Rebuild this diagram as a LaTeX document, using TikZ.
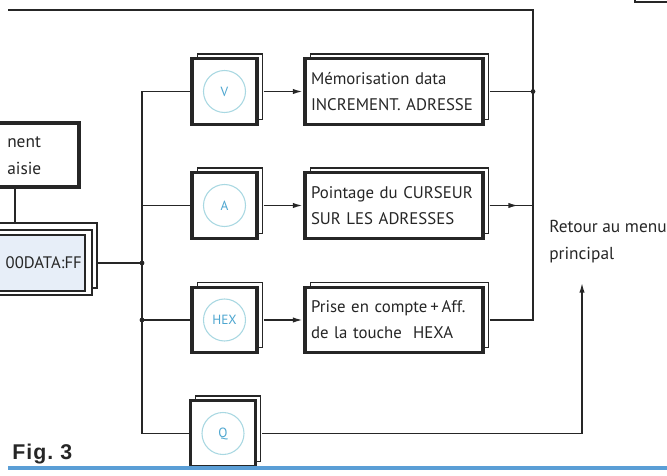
\documentclass[tikz,border=0pt]{standalone}
\usepackage{fontspec}
\setmainfont{PT Sans}
\newfontfamily\figfont[LetterSpace=5]{Liberation Sans}
\usetikzlibrary{arrows.meta,calc,shadows}
\definecolor{ink}{HTML}{262626}
\definecolor{cyanc}{HTML}{A9D8E2}
\definecolor{cyant}{HTML}{4DA6D0}
\definecolor{datab}{HTML}{E7EEF8}
\definecolor{figblue}{HTML}{5A9ED6}
\tikzset{
  front/.style={draw=ink, line width=2.3pt, fill=white, inner sep=0pt,
    copy shadow={shadow xshift=3.9pt, shadow yshift=3.75pt, draw=ink, fill=white, line width=1pt}},
  keybox/.style={front, minimum width=48.75pt, minimum height=49pt},
  textbox/.style={front, minimum width=133.5pt, minimum height=49pt, inner xsep=4.5pt,
    text width=124.5pt, align=left, text=ink, font=\fontsize{12.6}{19.5}\selectfont},
  keyc/.style={circle, draw=cyanc, line width=0.8pt, minimum size=31.5pt, inner sep=0pt,
    text=cyant, font=\fontsize{10}{11}\selectfont},
  wire/.style={draw=ink, line width=1.4pt},
  arr/.style={wire, -{Latex[length=8pt,width=4pt]}},
  jdot/.style={circle, fill=ink, inner sep=0pt, minimum size=3.6pt},
  lbl/.style={text=ink, align=left, inner sep=0pt, font=\fontsize{13}{20}\selectfont}
}
\begin{document}
\begin{tikzpicture}[x=0.75pt,y=-0.75pt]
\useasboundingbox (0,0) rectangle (667,475);

% cut-off box at the top right
\draw[ink, line width=1.8pt] (635,-20) rectangle (690,2);

% upper-left box (cut off)
\node[draw=ink, line width=2.3pt, fill=white, minimum width=66.75pt, minimum height=48pt, inner sep=0pt] (saisie) at (34.5,155) {};
\node[lbl, anchor=west, text width=60pt] (saisietxt) at (7,156) {nent\\aisie};

% DATA box (cut off), stacked frames
\draw[ink, line width=1pt, fill=white] (-10,223) rectangle (97,288);
\draw[ink, line width=2.2pt, fill=white] (-10,230) rectangle (92,295);
\node[draw=ink, line width=1pt, fill=datab, minimum width=71.25pt, minimum height=42pt, inner sep=0pt] (data) at (37.5,263) {};
\node[lbl, anchor=east, font=\fontsize{12.5}{14}\selectfont] (datatxt) at (82,263) {00DATA:FF};
\draw[wire] (saisie.south -| 15,0) -- (15,223);

% key boxes
\node[keybox] (vbox) at (224.5,91.5) {};
\node[keyc] (vk) at (vbox.center) {V};
\node[keybox] (abox) at (224.5,205.5) {};
\node[keyc] (ak) at (abox.center) {A};
\node[keybox] (hbox) at (224.5,320) {};
\node[keyc] (hk) at (hbox.center) {HEX};
\node[keybox] (qbox) at (223,433.5) {};
\node[keyc] (qk) at (qbox.center) {Q};

% action boxes
\node[textbox] (memo) at (394,91.5) {Mémorisation data\\INCREMENT. ADRESSE};
\node[textbox] (point) at (394,205.5) {Pointage du CURSEUR\\SUR LES ADRESSES};
\node[textbox] (prise) at (394,320) {Prise en compte\,+\,Aff.\\de la touche \ HEXA};

% left bus
\coordinate (bt) at (142,91.5);
\coordinate (bb) at (142,433.5);
\draw[wire] (vbox.west) -- (bt) -- (bb) -- (qbox.west);
\draw[wire] (bt |- abox.west) -- (abox.west);
\draw[wire] (bt |- hbox.west) -- (hbox.west);
\draw[wire] (97,263) -- (bt |- data.east);
\node[jdot] (j1) at (bt |- data.east) {};
\node[jdot] (j2) at (bt |- hbox.west) {};

% key -> action arrows
\draw[arr] ($(vbox.east)+(5,0)$) -- (memo.west);
\draw[arr] ($(abox.east)+(5,0)$) -- (point.west);
\draw[arr] ($(hbox.east)+(5,0)$) -- (prise.west);

% right bus, back to the top
\coordinate (rt) at (533,10);
\coordinate (rb) at (533,320);
\draw[wire] ($(prise.east)+(5,0)$) -- (rb) -- (rt) -- (8,10);
\draw[wire] ($(memo.east)+(5,0)$) -- (rt |- memo.east);
\node[jdot] (j3) at (rt |- memo.east) {};
\draw[wire] ($(point.east)+(5,0)$) -- (rt |- point.east);
\draw[arr] ($(point.east)+(5,0)$) -- (519,205.5);

% Q -> return to main menu
\coordinate (qr) at (582,433.5);
\draw[arr] ($(qbox.east)+(5,0)$) -- (qr) -- (582,282);
\node[lbl, anchor=north west] (retour) at (549,220) {Retour au menu\\principal};

% caption
\node[anchor=west, inner sep=0pt, text=ink, font=\figfont\bfseries\fontsize{16}{18}\selectfont] (fig) at (12,454) {Fig.~3};
\draw[figblue, line width=2.4pt] (8,468) -- (667,468);
\end{tikzpicture}
\end{document}
